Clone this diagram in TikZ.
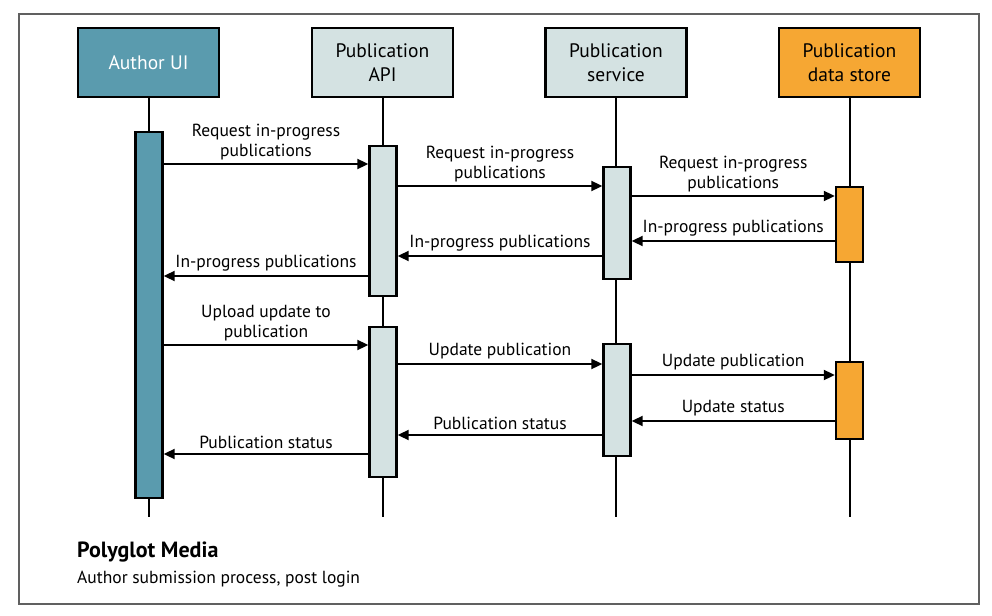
\documentclass[tikz,border=0pt]{standalone}
\usepackage{fontspec}
\setmainfont{PT Sans}
\usetikzlibrary{arrows.meta}
\definecolor{teal}{HTML}{5A9BAE}
\definecolor{pale}{HTML}{D4E2E2}
\definecolor{orng}{HTML}{F6A733}
\definecolor{frame}{HTML}{606060}
\tikzset{
  head/.style={draw=black, line width=2.6pt, minimum width=141pt, minimum height=69pt, align=center, inner sep=0pt, font=\fontsize{19.5}{24}\selectfont},
  bar/.style={draw=black, line width=2.4pt, minimum width=27pt, inner sep=0pt},
  life/.style={line width=2pt},
  msg/.style={line width=2pt, -{Triangle[length=11pt,width=10pt]}},
  lbl/.style={font=\fontsize{17.5}{20}\selectfont, align=center, inner sep=0pt, anchor=south}
}
\begin{document}
\begin{tikzpicture}[x=1pt,y=-1pt]
\useasboundingbox (0,0) rectangle (992,615);
\draw[frame, line width=1.3pt] (19,14) rectangle (979,604);
% headers
\node[head, fill=teal, text=white] (au) at (148.5,62.5) {Author UI};
\node[head, fill=pale] (api) at (382.5,62.5) {Publication\\API};
\node[head, fill=pale] (svc) at (616,62.5) {Publication\\service};
\node[head, fill=orng] (ds) at (849.5,62.5) {Publication\\data store};
% lifeline ends
\coordinate (auE) at (au.center |- 0,517);
\coordinate (apiE) at (api.center |- 0,517);
\coordinate (svcE) at (svc.center |- 0,517);
\coordinate (dsE) at (ds.center |- 0,517);
\draw[life] (au.south) -- (auE);
\draw[life] (api.south) -- (apiE);
\draw[life] (svc.south) -- (svcE);
\draw[life] (ds.south) -- (dsE);
% activation bars
\node[bar, fill=teal, minimum height=366pt] (aub) at (149,315) {};
\node[bar, fill=pale, minimum height=150pt] (apib1) at (383,221) {};
\node[bar, fill=pale, minimum height=150pt] (apib2) at (383,402) {};
\node[bar, fill=pale, minimum height=112pt] (svcb1) at (617,223) {};
\node[bar, fill=pale, minimum height=112pt] (svcb2) at (617,400) {};
\node[bar, fill=orng, minimum height=75pt] (dsb1) at (849.5,224.5) {};
\node[bar, fill=orng, minimum height=77pt] (dsb2) at (849.5,400.5) {};
% messages
\draw[msg] (aub.east |- 0,164) -- node[lbl, above=3pt] {Request in-progress\\publications} (apib1.west |- 0,164);
\draw[msg] (apib1.east |- 0,186) -- node[lbl, above=3pt] {Request in-progress\\publications} (svcb1.west |- 0,186);
\draw[msg] (svcb1.east |- 0,196) -- node[lbl, above=3pt] {Request in-progress\\publications} (dsb1.west |- 0,196);
\draw[msg] (dsb1.west |- 0,241) -- node[lbl, above=4pt] {In-progress publications} (svcb1.east |- 0,241);
\draw[msg] (svcb1.west |- 0,256) -- node[lbl, above=4pt] {In-progress publications} (apib1.east |- 0,256);
\draw[msg] (apib1.west |- 0,276) -- node[lbl, above=4pt] {In-progress publications} (aub.east |- 0,276);
\draw[msg] (aub.east |- 0,345) -- node[lbl, above=3pt] {Upload update to\\publication} (apib2.west |- 0,345);
\draw[msg] (apib2.east |- 0,364) -- node[lbl, above=4pt] {Update publication} (svcb2.west |- 0,364);
\draw[msg] (svcb2.east |- 0,375) -- node[lbl, above=4pt] {Update publication} (dsb2.west |- 0,375);
\draw[msg] (dsb2.west |- 0,421) -- node[lbl, above=4pt] {Update status} (svcb2.east |- 0,421);
\draw[msg] (svcb2.west |- 0,435) -- node[lbl, above=4pt] {Publication status} (apib2.east |- 0,435);
\draw[msg] (apib2.west |- 0,454) -- node[lbl, above=4pt] {Publication status} (aub.east |- 0,454);
% caption
\node[anchor=west, inner sep=0pt, font=\fontsize{22}{24}\selectfont\bfseries] (ttl) at (77,552) {Polyglot Media};
\node[anchor=west, inner sep=0pt, font=\fontsize{17.5}{20}\selectfont] (sub) at (77,579) {Author submission process, post login};
\end{tikzpicture}
\end{document}
